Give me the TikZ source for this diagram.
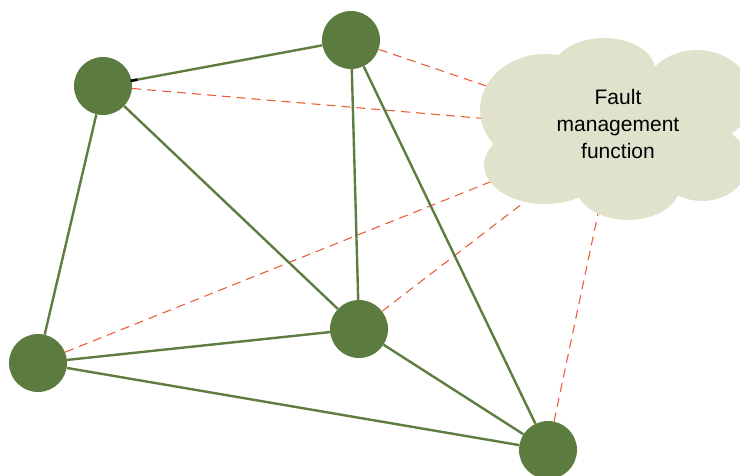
\documentclass[tikz,border=0pt]{standalone}
\usepackage{fontspec}
\setmainfont{Liberation Sans}
\usetikzlibrary{calc}
\pgfdeclarelayer{background}
\pgfsetlayers{background,main}
\definecolor{nodegreen}{HTML}{5B7B3F}
\definecolor{linkgreen}{HTML}{5E7D40}
\definecolor{mgmtline}{HTML}{E8603A}
\definecolor{cloudfill}{HTML}{E1E2CC}
\tikzset{
  device/.style={circle, fill=nodegreen, minimum size=58pt, inner sep=0pt},
  link/.style={draw=linkgreen, line width=2.4pt},
  mgmt/.style={draw=mgmtline, line width=1.1pt, dash pattern=on 9pt off 6pt},
}
\begin{document}
\begin{tikzpicture}[x=1pt, y=-1pt]
\useasboundingbox (0,0) rectangle (740,475);

% network devices
\node[device] (a) at (103,86) {};
\node[device] (b) at (351,40) {};
\node[device] (c) at (359,329) {};
\node[device] (d) at (38,363) {};
\node[device] (e) at (548,450) {};

% targets inside the management cloud
\coordinate (tb) at (560,111);
\coordinate (ta) at (560,125);
\coordinate (td) at (570,150);
\coordinate (tc) at (570,167);
\coordinate (te) at (603,190);

\begin{pgfonlayer}{background}
  % management links (hidden under the cloud at their far end)
  \path[mgmt] (b) -- (tb);
  \path[mgmt] (a) -- (ta);
  \path[mgmt] (d) -- (td);
  \path[mgmt] (c) -- (tc);
  \path[mgmt] (e) -- (te);

  % physical links
  \path[link] (a) -- (b);
  \path[link] (a) -- (d);
  \path[link] (a) -- (c);
  \path[link] (b) -- (c);
  \path[link] (b) -- (e);
  \path[link] (d) -- (c);
  \path[link] (d) -- (e);
  \path[link] (c) -- (e);
\end{pgfonlayer}
\draw[black, line width=2.6pt] ($(a)!28pt!(b)$) -- ($(a)!35pt!(b)$);

% cloud
\begin{scope}[fill=cloudfill]
  \fill (545,110) ellipse [x radius=65, y radius=56];
  \fill (604,70) ellipse [x radius=51, y radius=32];
  \fill (697,97) ellipse [x radius=55, y radius=47];
  \fill (545,165) ellipse [x radius=61, y radius=39];
  \fill (628,186) ellipse [x radius=52, y radius=34];
  \fill (702,163) ellipse [x radius=46, y radius=38];
  \fill (618,130) ellipse [x radius=85, y radius=62];
\end{scope}
\node[align=center, font=\fontsize{21}{27}\selectfont] (fm) at (618,124)
  {Fault\\management\\function};
\end{tikzpicture}
\end{document}
